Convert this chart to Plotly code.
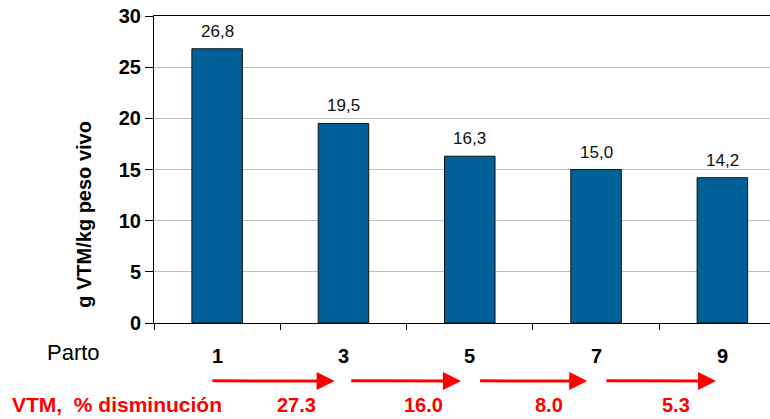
import plotly.graph_objects as go

# ---- data ----
parto = ["1", "3", "5", "7", "9"]
vtm = [26.8, 19.5, 16.3, 15.0, 14.2]
disminucion = ["27.3", "16.0", "8.0", "5.3"]
y_ticks = [0, 5, 10, 15, 20, 25, 30]

FONT = "Liberation Sans, Arial, sans-serif"
BAR = "#006098"
RED = "#ff0000"

xs = list(range(len(parto)))

fig = go.Figure()
fig.add_trace(go.Bar(
    x=xs, y=vtm, width=0.4,
    marker=dict(color=BAR, line=dict(color="#111111", width=1)),
    hoverinfo="skip",
))

ann = []
# value labels
for x, v in zip(xs, vtm):
    ann.append(dict(x=x, y=v, xref="x", yref="y", text=f"{v:.1f}".replace(".", ","),
                    showarrow=False, yanchor="bottom", yshift=6,
                    font=dict(family=FONT, size=17, color="#111111")))
# category labels
for x, lab in zip(xs, parto):
    ann.append(dict(x=x, y=-0.107, xref="x", yref="paper", text=lab, showarrow=False,
                    yanchor="middle", xanchor="center",
                    font=dict(family=FONT, size=20, color="#000000", weight="bold")))
ann.append(dict(x=-0.131, y=-0.095, xref="paper", yref="paper", text="Parto", showarrow=False,
                xanchor="center", yanchor="middle",
                font=dict(family=FONT, size=22, color="#000000")))
# arrows between consecutive partos
arrow_start = [-0.05, 1.05, 2.07, 3.07]
arrow_end = [0.93, 1.93, 2.93, 3.95]
for s, e in zip(arrow_start, arrow_end):
    ann.append(dict(x=e, y=-0.189, xref="x", yref="paper", ax=s, ay=-0.189,
                    axref="x", ayref="pixel", text="", showarrow=True,
                    arrowhead=2, arrowsize=1.2, arrowwidth=3, arrowcolor=RED))
for i, t in enumerate(disminucion):
    ann.append(dict(x=i + 0.63, y=-0.267, xref="x", yref="paper", text=t, showarrow=False,
                    xanchor="center", yanchor="middle",
                    font=dict(family=FONT, size=20, color=RED, weight="bold")))
ann.append(dict(x=-0.234, y=-0.267, xref="paper", yref="paper", text="VTM,&nbsp; % disminución",
                showarrow=False, xanchor="left", yanchor="middle",
                font=dict(family=FONT, size=21, color=RED, weight="bold")))
# y axis title
ann.append(dict(x=-0.114, y=0.355, xref="paper", yref="paper", text="g VTM/kg peso vivo",
                showarrow=False, textangle=-90, xanchor="center", yanchor="middle",
                font=dict(family=FONT, size=20, color="#000000", weight="bold")))

fig.update_layout(
    width=770, height=419,
    margin=dict(l=154, r=0, t=16, b=96),
    paper_bgcolor="white", plot_bgcolor="white",
    showlegend=False,
    annotations=ann,
    bargap=0.6,
)
fig.update_xaxes(
    range=[-0.5, 4.377],
    tickvals=[i - 0.5 for i in range(len(parto) + 1)],
    showticklabels=False, ticks="outside", ticklen=6, tickcolor="#000000", tickwidth=1,
    showline=True, linecolor="#000000", linewidth=1, mirror=True,
    showgrid=False, zeroline=False, fixedrange=True,
)
fig.update_yaxes(
    range=[0, 30], tickvals=y_ticks,
    ticks="outside", ticklen=8, tickcolor="#000000", tickwidth=1,
    tickfont=dict(family=FONT, size=20, color="#000000", weight="bold"),
    showline=True, linecolor="#000000", linewidth=1,
    showgrid=True, gridcolor="#c0c0c0", gridwidth=1, zeroline=False,
)

fig.write_html("out.html")
